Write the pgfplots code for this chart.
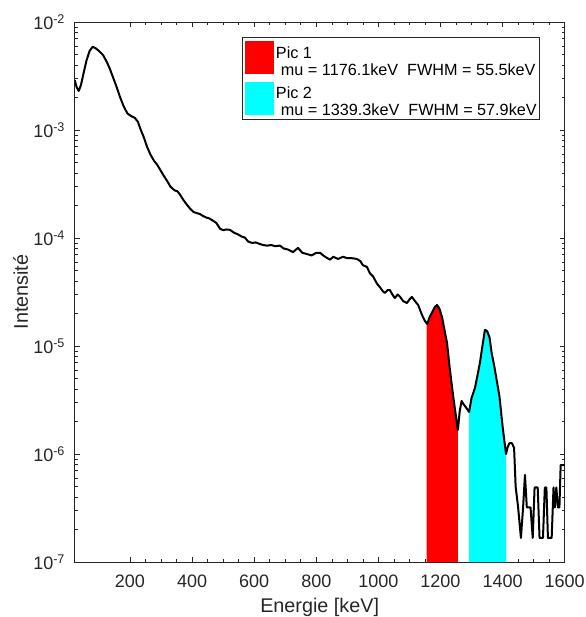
\documentclass[border=0pt]{standalone}
\usepackage{fontspec}
\setmainfont{Liberation Sans}
\usepackage{pgfplots}
\pgfplotsset{compat=1.18}
\usepackage{pgfplotstable}
\definecolor{axgray}{rgb}{0.15,0.15,0.15}
\definecolor{mred}{rgb}{1,0,0}
\definecolor{mcyan}{rgb}{0,1,1}

\pgfplotstableread{
x y
22 2.9e-3
28 2.5e-3
35 2.3e-3
42 2.6e-3
50 3.3e-3
60 4.4e-3
70 5.4e-3
80 5.9e-3
90 5.7e-3
100 5.4e-3
113 4.95e-3
125 4.3e-3
135 3.7e-3
145 3.1e-3
157 2.5e-3
168 2.02e-3
180 1.65e-3
192 1.42e-3
205 1.34e-3
215 1.3e-3
225 1.2e-3
235 1.0e-3
245 8.5e-4
255 7.0e-4
265 6.0e-4
277 5.2e-4
287 4.8e-4
297 4.3e-4
308 3.8e-4
319 3.4e-4
330 3.0e-4
338 2.85e-4
345 2.75e-4
352 2.72e-4
360 2.55e-4
372 2.25e-4
384 2.02e-4
395 1.85e-4
405 1.74e-4
415 1.7e-4
425 1.67e-4
435 1.6e-4
445 1.55e-4
455 1.52e-4
465 1.46e-4
478 1.38e-4
490 1.22e-4
500 1.18e-4
510 1.2e-4
522 1.19e-4
535 1.12e-4
548 1.08e-4
560 1.03e-4
570 1.01e-4
580 9.3e-5
593 9.0e-5
605 9.1e-5
618 8.8e-5
630 8.6e-5
641 8.5e-5
655 8.6e-5
668 8.4e-5
683 8.5e-5
695 8.0e-5
710 7.8e-5
725 7.4e-5
741 8.1e-5
755 7.3e-5
770 7.1e-5
785 6.9e-5
800 7.3e-5
812 7.3e-5
825 6.8e-5
844 6.3e-5
855 6.7e-5
870 6.4e-5
886 6.7e-5
900 6.5e-5
915 6.5e-5
931 6.4e-5
942 6.1e-5
950 5.6e-5
963 5.4e-5
973 4.7e-5
983 4.4e-5
995 3.8e-5
1005 3.5e-5
1015 3.2e-5
1021 3.1e-5
1030 3.3e-5
1037 3.3e-5
1045 3.0e-5
1053 2.78e-5
1062 3.0e-5
1070 2.85e-5
1080 2.6e-5
1092 2.5e-5
1100 2.7e-5
1108 2.85e-5
1118 2.6e-5
1128 2.4e-5
1140 1.95e-5
1150 1.7e-5
1157 1.6e-5
1165 1.85e-5
1173 2.05e-5
1182 2.3e-5
1189 2.4e-5
1197 2.2e-5
1205 1.85e-5
1213 1.4e-5
1221 1.07e-5
1229 6.5e-6
1237 4.2e-6
1245 2.8e-6
1256 1.67e-6
1262 2.5e-6
1268 3.1e-6
1274 2.9e-6
1282 2.7e-6
1292 2.45e-6
1300 3.3e-6
1311 4.1e-6
1320 5.5e-6
1327 7.0e-6
1335 1.0e-5
1343 1.41e-5
1350 1.38e-5
1358 1.2e-5
1365 8.5e-6
1372 6.8e-6
1380 5.0e-6
1390 3.4e-6
1400 1.8e-6
1411 1.0e-6
1416 1.15e-6
1422 1.26e-6
1430 1.26e-6
1437 1.14e-6
1442 5.0e-7
1450 3.2e-7
1459 1.67e-7
1466 3.2e-7
1472 6.4e-7
1478 3.2e-7
1490 3.2e-7
1497 1.67e-7
1503 4.9e-7
1513 4.9e-7
1519 1.67e-7
1530 1.67e-7
1536 4.9e-7
1541 4.9e-7
1546 1.67e-7
1558 1.67e-7
1564 4.9e-7
1568 3.2e-7
1573 4.9e-7
1578 3.2e-7
1583 3.2e-7
1587 7.9e-7
1600 7.9e-7
}\spectrum

\pgfplotstableread{
x y
1155 1e-7
1155 1.6e-5
1157 1.6e-5
1165 1.85e-5
1173 2.05e-5
1182 2.3e-5
1189 2.4e-5
1197 2.2e-5
1205 1.85e-5
1213 1.4e-5
1221 1.07e-5
1229 6.5e-6
1237 4.2e-6
1245 2.8e-6
1256 1.67e-6
1256 1e-7
}\picone

\pgfplotstableread{
x y
1292 1e-7
1292 2.45e-6
1300 3.3e-6
1311 4.1e-6
1320 5.5e-6
1327 7.0e-6
1335 1.0e-5
1343 1.41e-5
1350 1.38e-5
1358 1.2e-5
1365 8.5e-6
1372 6.8e-6
1380 5.0e-6
1390 3.4e-6
1400 1.8e-6
1411 1.0e-6
1411 1e-7
}\pictwo

\begin{document}
\begin{tikzpicture}
\begin{axis}[
  at={(0,0)}, anchor=south west,
  scale only axis, width=490bp, height=540bp,
  ymode=log,
  xmin=22, xmax=1600, ymin=1e-7, ymax=1e-2,
  xtick={200,400,...,1600}, minor x tick num=3,
  axis line style={axgray, line width=0.6bp},
  every tick/.style={axgray, line width=0.6bp},
  major tick length=5bp, minor tick length=3bp,
  tick label style={axgray, font=\fontsize{18bp}{21bp}\selectfont},
  xticklabel style={/pgf/number format/assume math mode=true, /pgf/number format/1000 sep={}, anchor=base, inner sep=0pt, yshift=-25bp},
  yticklabel style={anchor=east, inner sep=0pt, xshift=-9.5bp},
  log number format basis/.code 2 args={\pgfmathtruncatemacro\myexp{#2}#1\textsuperscript{\myexp}},
  label style={axgray, font=\fontsize{19.8bp}{23bp}\selectfont},
  xlabel={Energie [keV]},
  ylabel={Intensité},
  xlabel style={at={(axis description cs:0.5,-0.0944)}, anchor=base},
  ylabel style={at={(axis description cs:-0.0953,0.5)}, anchor=base},
  legend image code/.code={\fill[#1] (0bp,-16.5bp) rectangle (29.5bp,16.5bp);},
  legend cell align=left,
  legend style={at={(0.9496,0.972)}, anchor=north east, draw=axgray, line width=0.6bp,
    font=\fontsize{16.2bp}{17bp}\selectfont, inner xsep=3bp, inner ysep=4bp,
    row sep=7.5bp, column sep=1.5bp, nodes={inner sep=0pt}},
]
\addplot[fill=mred, draw=none] table[x=x,y=y] {\picone};
\addlegendentry{\begin{tabular}{@{}l@{}}Pic 1\\\hspace{5bp}mu = 1176.1keV\ \ FWHM = 55.5keV\end{tabular}}
\addplot[fill=mcyan, draw=none] table[x=x,y=y] {\pictwo};
\addlegendentry{\begin{tabular}{@{}l@{}}Pic 2\\\hspace{5bp}mu = 1339.3keV\ \ FWHM = 57.9keV\end{tabular}}
\addplot[black, line width=2bp, line join=round, forget plot] table[x=x,y=y] {\spectrum};
\end{axis}
\pgfresetboundingbox
\useasboundingbox (-74.7bp,-55bp) rectangle (511.3bp,562bp);
\end{tikzpicture}
\end{document}
